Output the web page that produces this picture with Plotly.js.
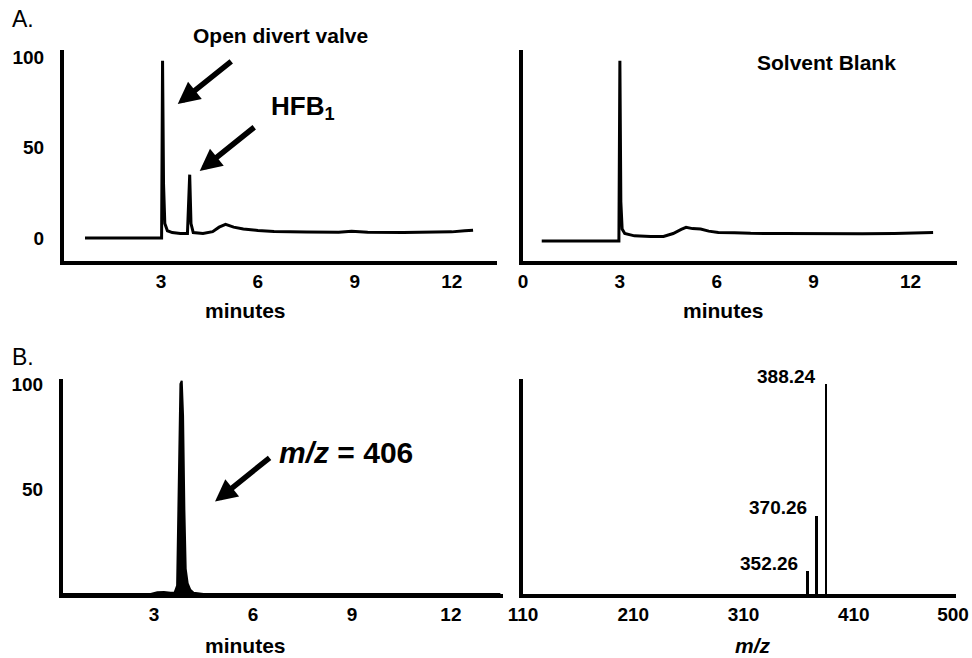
<!DOCTYPE html>
<html>
<head>
<meta charset="utf-8">
<script src="https://cdn.plot.ly/plotly-3.0.1.min.js"></script>
<style>
html,body{margin:0;padding:0;background:#fff;}
#chart{width:972px;height:658px;}
</style>
</head>
<body>
<div id="chart"></div>
<script>
// ---- Data ----
// Panel A left: sample chromatogram (minutes vs relative intensity)
const sampleTime = [0.65, 3.02, 3.05, 3.08, 3.12, 3.2, 3.35, 3.6, 3.82, 3.86, 3.89, 3.93, 4.0, 4.3, 4.6, 4.8, 5.0, 5.25, 5.55, 6.0, 6.5, 7.5, 8.5, 8.9, 9.4, 10.5, 11.5, 12.0, 12.4, 12.66];
const sampleIntensity = [0, 0, 98, 30, 8, 4, 3, 2.5, 2.5, 20, 35, 8, 3, 2.5, 3.5, 6, 7.5, 6, 5, 4.2, 3.6, 3.3, 3.2, 3.7, 3.2, 3.1, 3.2, 3.4, 4, 4.3];
// Panel A right: solvent blank
const blankTime = [0.58, 2.97, 3.0, 3.03, 3.07, 3.15, 3.45, 3.95, 4.35, 4.65, 4.9, 5.05, 5.25, 5.5, 5.75, 6.05, 6.55, 7.05, 8, 8.7, 9.5, 10.5, 11.5, 12.3, 12.7];
const blankIntensity = [-1.6, -1.6, 98, 20, 5, 2.5, 1.2, 0.8, 0.9, 2.5, 4.8, 5.9, 5.2, 5.0, 3.8, 3.1, 2.9, 2.6, 2.5, 2.4, 2.5, 2.4, 2.5, 2.6, 3.0];
// Panel B left: extracted ion chromatogram m/z = 406
const eicTime = [0.24, 2.9, 3.1, 3.3, 3.5, 3.62, 3.7, 3.76, 3.8, 3.84, 3.88, 3.92, 3.96, 4.02, 4.1, 4.2, 4.5, 13.5];
const eicIntensity = [0, 0, 0.8, 1, 0.6, 0.6, 4, 60, 100, 101.5, 85, 40, 12, 5, 2, 0.6, 0, 0];
// Panel B right: mass spectrum
const specMz = [368.2, 376.4, 384.8];
const specIntensity = [10.8, 37.3, 100];
const specLabels = ['352.26', '370.26', '388.24'];
// Tick labels
const timeTicksA = [3, 6, 9, 12];
const timeTicksBlank = [0, 3, 6, 9, 12];
const yTicksA = [0, 50, 100];
const yTicksB = [50, 100];
const mzTicks = [110, 210, 310, 410, 500];

// ---- Layout helpers (pixel -> paper) ----
const W = 972, H = 658;
const px = v => v / W;
const py = v => 1 - v / H;
const FAM = 'Liberation Sans, Arial, Helvetica, sans-serif';
const tickFont = {family: FAM, size: 19, color: '#000', weight: 'bold'};
const boldFont = s => ({family: FAM, size: s, color: '#000', weight: 'bold'});

function axisBase(extra) {
  return Object.assign({
    showline: true, linecolor: '#000', linewidth: 4,
    showgrid: false, zeroline: false, ticks: '',
    tickfont: tickFont, fixedrange: true
  }, extra);
}

const lineStyle = {color: '#000', width: 3, shape: 'linear'};

const traces = [
  {type: 'scatter', mode: 'lines', x: sampleTime, y: sampleIntensity, xaxis: 'x', yaxis: 'y', line: lineStyle, hoverinfo: 'skip'},
  {type: 'scatter', mode: 'lines', x: blankTime, y: blankIntensity, xaxis: 'x2', yaxis: 'y2', line: lineStyle, hoverinfo: 'skip'},
  {type: 'scatter', mode: 'lines', x: eicTime, y: eicIntensity, xaxis: 'x3', yaxis: 'y3', line: {color: '#000', width: 2}, fill: 'tozeroy', fillcolor: '#000', hoverinfo: 'skip'},
  {type: 'bar', x: specMz, y: specIntensity, xaxis: 'x4', yaxis: 'y4', width: 2.7, marker: {color: '#000', line: {width: 0}}, hoverinfo: 'skip'}
];

const ann = [];
function txt(text, x, y, font, opts) {
  ann.push(Object.assign({
    text: text, xref: 'paper', yref: 'paper', x: px(x), y: py(y),
    xanchor: 'center', yanchor: 'middle', showarrow: false, font: font
  }, opts || {}));
}
const plainFont = s => ({family: FAM, size: s, color: '#000'});
txt('A.', 23, 19, plainFont(23));
txt('B.', 23, 357, plainFont(23));
txt('Open divert valve', 280, 35, boldFont(21));
txt('HFB<sub>1</sub>', 269, 108, boldFont(26), {xanchor: 'left'});
txt('Solvent Blank', 826, 63, boldFont(21));
txt('<i>m/z</i> = 406', 277, 452, boldFont(30), {xanchor: 'left'});
txt('minutes', 245, 310, boldFont(21));
txt('minutes', 723, 310, boldFont(21));
txt('minutes', 245, 645, boldFont(21));
txt('<i>m/z</i>', 753, 645, boldFont(21));

// Arrows
function arrow(xref, yref, x, y, ax, ay) {
  ann.push({text: '', xref: xref, yref: yref, x: x, y: y, ax: ax, ay: ay,
    showarrow: true, arrowhead: 2, arrowsize: 0.8, arrowwidth: 5.5, arrowcolor: '#000', standoff: 0});
}
arrow('x', 'y', 3.52, 74, 55, -44);
arrow('x', 'y', 4.2, 37, 56, -45);
arrow('x3', 'y3', 4.85, 44, 56, -45);

// Spectrum peak labels
specMz.forEach((m, i) => {
  ann.push({text: specLabels[i], xref: 'x4', yref: 'y4', x: m, y: specIntensity[i],
    xanchor: 'right', yanchor: 'middle', xshift: -8, yshift: 8, showarrow: false,
    font: boldFont(19)});
});

const layout = {
  width: W, height: H,
  margin: {l: 0, r: 0, t: 0, b: 0},
  paper_bgcolor: '#fff', plot_bgcolor: '#fff',
  showlegend: false, bargap: 0,
  font: {family: FAM, color: '#000'},
  xaxis: axisBase({domain: [px(64), px(497)], range: [0, 13.4], tickvals: timeTicksA, anchor: 'y'}),
  yaxis: axisBase({domain: [py(261), py(50)], range: [-12.7, 103.9], tickvals: yTicksA, anchor: 'x', ticklabelstandoff: 12}),
  xaxis2: axisBase({domain: [px(523), px(957)], range: [0, 13.44], tickvals: timeTicksBlank, anchor: 'y2'}),
  yaxis2: axisBase({domain: [py(261), py(50)], range: [-12.7, 103.9], showticklabels: false, anchor: 'x2'}),
  xaxis3: axisBase({domain: [px(63), px(503)], range: [0.24, 13.58], tickvals: timeTicksA, anchor: 'y3'}),
  yaxis3: axisBase({domain: [py(594), py(379)], range: [0, 102.4], tickvals: yTicksB, anchor: 'x3', ticklabelstandoff: 12}),
  xaxis4: axisBase({domain: [px(523), px(956)], range: [110, 502.7], tickvals: mzTicks, anchor: 'y4'}),
  yaxis4: axisBase({domain: [py(594), py(379)], range: [0, 102.4], showticklabels: false, anchor: 'x4'}),
  annotations: ann
};

Plotly.newPlot('chart', traces, layout, {staticPlot: true, displayModeBar: false});
</script>
</body>
</html>
